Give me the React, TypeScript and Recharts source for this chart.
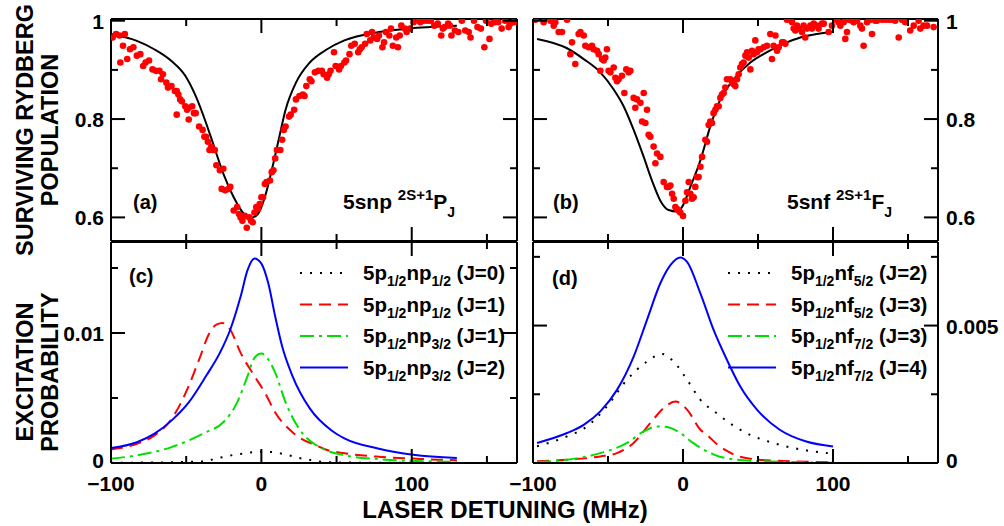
import React from 'react';
import { ComposedChart, Line, Scatter, XAxis, YAxis } from 'recharts';

const W = 1004;
const H = 526;
const FONT = '"Liberation Sans", Arial, Helvetica, sans-serif';

// axes (laser detuning in MHz)
const xDomain: [number, number] = [-100, 170];
const xTicks = [-100, -50, 0, 50, 100, 150];
const xMajor = [-100, 0, 100];

const popDomain: [number, number] = [0.552, 1.0035];
const popTicks = [0.6, 0.7, 0.8, 0.9, 1];
const popMajor = [0.6, 0.8, 1];

const npDomain: [number, number] = [0, 0.017];
const npTicks = [0, 0.005, 0.01, 0.015];
const npMajor = [0, 0.01];

const nfDomain: [number, number] = [0, 0.00804];
const nfTicks = [0, 0.0025, 0.005, 0.0075];
const nfMajor = [0, 0.005];

// (a) 5snp measured survival + fit
const aFit: [number, number][] = [
  [-100, 0.973], [-82.8, 0.959], [-71.3, 0.942], [-59.8, 0.918], [-50.6, 0.888], [-43.7, 0.847],
  [-36.8, 0.792], [-32.2, 0.751], [-25.3, 0.689], [-18.4, 0.641], [-11.5, 0.607], [-7, 0.599],
  [-2.3, 0.607], [2.3, 0.641], [6.9, 0.696], [11.5, 0.758], [16.1, 0.819], [23, 0.874],
  [32.2, 0.915], [43.7, 0.942], [55.2, 0.96], [78.2, 0.977], [101, 0.985], [130, 0.99],
];
const aDots: [number, number][] = [
  [-98.9, 0.966], [-96.6, 0.973], [-94.3, 0.97], [-90.8, 0.973], [-93.8, 0.915], [-92, 0.949],
  [-89.2, 0.922], [-87.4, 0.942], [-85.1, 0.946], [-82.8, 0.929], [-80.5, 0.932], [-78.6, 0.908],
  [-77, 0.915], [-74.7, 0.919], [-72.4, 0.901], [-70.1, 0.898], [-67.8, 0.898], [-66.7, 0.881],
  [-65.5, 0.891], [-63.2, 0.874], [-62.1, 0.864], [-59.8, 0.867], [-57.5, 0.857], [-56.3, 0.857],
  [-55.2, 0.85], [-54, 0.84], [-52.9, 0.836], [-50.6, 0.826], [-49.4, 0.819], [-48.3, 0.823],
  [-46, 0.826], [-44.8, 0.812], [-43.7, 0.812], [-56.3, 0.809], [-48.3, 0.799], [-41.4, 0.785],
  [-39.1, 0.778], [-36.8, 0.764], [-37.9, 0.764], [-35.6, 0.754], [-33.3, 0.744], [-32.2, 0.737],
  [-34.5, 0.737], [-31, 0.737], [-29.9, 0.706], [-27.6, 0.696], [-25.3, 0.699], [-26.4, 0.658],
  [-24.1, 0.655], [-21.8, 0.658], [-20.7, 0.662], [-18.4, 0.614], [-16.1, 0.621], [-14.9, 0.607],
  [-13.8, 0.6], [-12.6, 0.593], [-11, 0.603], [-9.7, 0.579], [-8, 0.6], [-6.9, 0.593],
  [-5.7, 0.59], [-4.6, 0.61], [-3.4, 0.621], [-2.3, 0.617], [-1.1, 0.627], [0, 0.641],
  [1.1, 0.641], [2.3, 0.668], [3.4, 0.672], [5.7, 0.675], [6.9, 0.692], [8, 0.696],
  [9.2, 0.72], [10.3, 0.737], [12.6, 0.737], [13.8, 0.758], [14.9, 0.778], [16.1, 0.785],
  [18.4, 0.805], [19.5, 0.809], [21.8, 0.819], [23, 0.84], [25.3, 0.847], [27.6, 0.85],
  [28.7, 0.847], [29.9, 0.867], [32.2, 0.881], [33.3, 0.877], [35.6, 0.895], [37.9, 0.898],
  [40.2, 0.898], [41.4, 0.891], [43.7, 0.884], [44.8, 0.891], [46, 0.898], [48.3, 0.936],
  [49.4, 0.908], [51.7, 0.901], [52.9, 0.908], [55.2, 0.915], [56.3, 0.919], [58.6, 0.932],
  [59.8, 0.949], [62.1, 0.953], [64.4, 0.936], [65.5, 0.942], [66.7, 0.946], [69, 0.953],
  [70.1, 0.973], [72.4, 0.96], [73.6, 0.977], [74.7, 0.966], [77, 0.963], [78.2, 0.97],
  [80.5, 0.946], [81.6, 0.956], [82.8, 0.977], [85.1, 0.97], [86.2, 0.984], [87.4, 0.949],
  [89.7, 0.966], [90.8, 0.946], [92, 0.97], [93.1, 0.99], [95.4, 0.984], [96.6, 0.977],
  [98.9, 0.984], [101.2, 0.997], [104.6, 1.0], [105.7, 0.997], [108, 1.0], [110.4, 1.0],
  [112.7, 1.0], [115, 0.99], [117.3, 0.994], [119.6, 0.97], [120.7, 0.984], [121.9, 0.987],
  [124.2, 0.994], [125.3, 0.99], [126.4, 0.97], [128.7, 0.98], [131, 0.977], [133.3, 1.0],
  [135.6, 0.98], [137.9, 0.977], [139.1, 0.966], [141.4, 1.0], [143.7, 0.987], [146, 0.984],
  [148.3, 0.946], [149.4, 1.0], [151.7, 0.963], [152.9, 0.994], [155.2, 0.997], [157.5, 0.997],
  [159.8, 0.984], [162.1, 1.0], [164.4, 0.987], [165.5, 0.994], [167.8, 0.997],
];

// (b) 5snf measured survival + fit
const bFit: [number, number][] = [
  [-97.3, 0.963], [-77.3, 0.944], [-66.2, 0.922], [-55.1, 0.895], [-46.2, 0.86], [-39.6, 0.826],
  [-32.9, 0.778], [-26.2, 0.723], [-20.7, 0.675], [-15.1, 0.634], [-9.6, 0.615], [-4, 0.612],
  [-0.7, 0.621], [4.9, 0.662], [11.6, 0.716], [18.2, 0.785], [24.9, 0.84], [33.8, 0.881],
  [44.9, 0.915], [56, 0.936], [67.1, 0.953], [78.2, 0.966], [89.3, 0.973], [100, 0.977],
];
const bDots: [number, number][] = [
  [-98.4, 1.002], [-92.9, 0.997], [-88.4, 1.0], [-85.1, 0.997], [-86.2, 0.99], [-82.9, 0.977],
  [-80.7, 0.977], [-77.3, 1.002], [-74, 0.956], [-75.1, 0.932], [-71.8, 0.912], [-69.6, 0.973],
  [-68.4, 0.977], [-66.2, 0.97], [-65.1, 0.949], [-62.9, 0.946], [-60.7, 0.949], [-59.6, 0.942],
  [-57.3, 0.939], [-56.2, 0.932], [-55.1, 0.898], [-54, 0.922], [-52.9, 0.919], [-51.8, 0.925],
  [-50.7, 0.942], [-49.6, 0.898], [-48.4, 0.895], [-46.2, 0.905], [-45.1, 0.884], [-44, 0.877],
  [-42.9, 0.881], [-40.7, 0.888], [-39.1, 0.853], [-37.8, 0.901], [-36.2, 0.895], [-35.1, 0.898],
  [-32.9, 0.843], [-31.8, 0.823], [-30.7, 0.84], [-28.4, 0.833], [-27.3, 0.795], [-26.2, 0.853],
  [-25.1, 0.792], [-24, 0.819], [-22.9, 0.768], [-21.8, 0.764], [-19.6, 0.744], [-18.4, 0.71],
  [-17.3, 0.73], [-15.1, 0.723], [-12.9, 0.672], [-10.7, 0.662], [-9.6, 0.662], [-8.4, 0.665],
  [-7.3, 0.648], [-6.2, 0.638], [-5.1, 0.621], [-4, 0.617], [-2.9, 0.614], [-1.8, 0.61],
  [0, 0.603], [1.6, 0.634], [2.7, 0.651], [3.8, 0.672], [4.9, 0.648], [6, 0.638],
  [7.1, 0.641], [8.2, 0.662], [9.3, 0.682], [10.4, 0.682], [11.6, 0.703], [12.7, 0.723],
  [14.9, 0.758], [16, 0.754], [17.1, 0.788], [18.2, 0.795], [19.3, 0.792], [20.4, 0.812],
  [21.6, 0.819], [22.7, 0.826], [23.8, 0.826], [24.9, 0.843], [26, 0.85], [27.1, 0.853],
  [28.2, 0.864], [29.3, 0.881], [31.6, 0.881], [32.7, 0.874], [33.8, 0.871], [34.9, 0.867],
  [36, 0.881], [37.1, 0.891], [38.2, 0.905], [39.3, 0.912], [40.4, 0.915], [41.6, 0.929],
  [42.7, 0.936], [43.8, 0.925], [44.9, 0.901], [46, 0.939], [47.1, 0.932], [48.2, 0.96],
  [49.3, 0.936], [50.4, 0.942], [51.6, 0.942], [53.8, 0.946], [56, 0.949], [58.2, 0.973],
  [59.3, 0.922], [60.4, 0.949], [61.6, 0.97], [62.7, 0.939], [63.8, 0.946], [66, 0.956],
  [67.1, 0.956], [68.2, 0.953], [69.3, 1.002], [71.6, 1.002], [72.7, 0.997], [73.8, 0.984],
  [74.9, 0.98], [76, 0.99], [77.1, 0.984], [79.3, 0.977], [80.4, 0.99], [81.5, 0.966],
  [82.7, 0.984], [84.9, 0.99], [86, 0.984], [87.1, 0.994], [89.3, 0.99], [90.4, 0.984],
  [92.7, 0.994], [93.8, 0.994], [97.1, 0.977], [99.3, 0.99], [101.5, 1.002], [103.8, 0.997],
  [104.9, 0.99], [107.1, 0.997], [108.2, 0.963], [109.3, 0.977], [110.4, 1.002], [112.7, 1.0],
  [113.8, 0.997], [116, 1.0], [118.2, 0.99], [119.3, 0.984], [120.4, 0.949], [122.7, 0.997],
  [124.9, 1.002], [126, 0.973], [128.2, 1.0], [129.3, 1.0], [132.7, 1.002], [134.9, 1.002],
  [137.1, 1.002], [139.3, 1.002], [141.5, 1.0], [143.8, 0.966], [146, 1.002], [148.2, 0.997],
  [151.5, 0.98], [153.8, 0.99], [157.1, 1.0], [158.2, 0.984], [160.4, 0.99], [162.7, 0.99],
  [167.1, 0.987],
];

// (c) 5p1/2 np excitation probability
const npJ0: [number, number][] = [
  [-100, 0.00002], [-70, 0.00004], [-50, 0.00008], [-37.7, 0.00012], [-31.4, 0.00031],
  [-25.3, 0.00046], [-18.7, 0.00062], [-12.4, 0.00072], [-6, 0.00082], [0, 0.00086],
  [6.6, 0.00085], [13.3, 0.00072], [19.5, 0.00056], [25.4, 0.00038], [31.6, 0.00025],
  [38, 0.00012], [44.5, 0.00006], [60, 0.00003], [100, 0.00001], [130, 0.00001],
];
const npJ1a: [number, number][] = [
  [-100, 0.00104], [-82.8, 0.00148], [-71.3, 0.00211], [-59.8, 0.00338], [-48.3, 0.00593],
  [-41.4, 0.00796], [-34.5, 0.01], [-29.9, 0.01064], [-25.7, 0.01076], [-20.7, 0.01025],
  [-13.8, 0.00847], [-4.6, 0.00669], [2.3, 0.00542], [9.2, 0.00389], [20.7, 0.00237],
  [24.8, 0.002], [35.4, 0.0014], [43.7, 0.001], [55.2, 0.00075], [78.2, 0.00048],
  [101.2, 0.00034], [118, 0.00025], [130, 0.00022],
];
const npJ1b: [number, number][] = [
  [-100, 0.00033], [-82.8, 0.00059], [-59.8, 0.00122], [-36.8, 0.00237], [-25.3, 0.00313],
  [-16.1, 0.00466], [-9.2, 0.00669], [-4.6, 0.00809], [0, 0.00842], [4.6, 0.00796],
  [9.2, 0.00695], [16.1, 0.00466], [25.3, 0.0026], [29.5, 0.002], [39.1, 0.0012],
  [55.2, 0.0006], [78.2, 0.0003], [95, 0.00018], [130, 0.0001],
];
const npJ2: [number, number][] = [
  [-100, 0.00115], [-82.8, 0.0016], [-71.3, 0.00224], [-59.8, 0.00326], [-48.3, 0.00466],
  [-36.8, 0.00669], [-27.6, 0.00847], [-20.7, 0.01025], [-13.8, 0.0128], [-9.2, 0.01483],
  [-4.6, 0.01573], [0, 0.01534], [4.6, 0.01382], [9.2, 0.01127], [13.8, 0.00898],
  [20.7, 0.00669], [32.2, 0.0042], [46.7, 0.0025], [55.2, 0.0019], [78.2, 0.0011],
  [101, 0.00063], [130, 0.00038],
];

// (d) 5p1/2 nf excitation probability
const nfJ2: [number, number][] = [
  [-97.3, 0.00061], [-77.3, 0.00097], [-64, 0.00133], [-50.7, 0.00206], [-37.3, 0.00303],
  [-24, 0.00369], [-14, 0.00397], [-6.2, 0.00369], [2.7, 0.00303], [11.6, 0.0023],
  [22.7, 0.0018], [33.8, 0.00135], [42.2, 0.00109], [60, 0.00073], [80, 0.00048], [100, 0.00034],
];
const nfJ3a: [number, number][] = [
  [-97.3, 0.00006], [-77.3, 0.00012], [-55.1, 0.00024], [-44, 0.00036], [-32.9, 0.00073],
  [-21.8, 0.00145], [-12.9, 0.002], [-5.1, 0.00224], [2.7, 0.00194], [11.6, 0.00121],
  [16.5, 0.001], [22.7, 0.00068], [29, 0.00045], [38, 0.00023], [56, 0.0001], [100, 0.00003],
];
const nfJ3b: [number, number][] = [
  [-97.3, 0.00004], [-77.3, 0.00012], [-55.1, 0.00036], [-37.3, 0.00073], [-26.2, 0.00115],
  [-17.3, 0.00133], [-10.7, 0.00131], [-1.8, 0.00109], [6.7, 0.00073], [11.6, 0.00055],
  [18, 0.00037], [24.5, 0.00023], [44.9, 0.00008], [100, 0.00001],
];
const nfJ4: [number, number][] = [
  [-97.3, 0.00073], [-77.3, 0.00109], [-66.2, 0.00139], [-55.1, 0.00188], [-44, 0.00266],
  [-32.9, 0.00387], [-24, 0.00521], [-15.1, 0.00654], [-8.4, 0.0072], [-1.8, 0.00748],
  [2.7, 0.00732], [11.6, 0.00617], [20.4, 0.00484], [29.3, 0.00375], [38.2, 0.00278],
  [49.3, 0.00194], [64.5, 0.00121], [82.2, 0.00078], [100, 0.0006],
];

// legend labels: [core, sub1, mid, sub2, J]
const npLegend = [
  ['5p', '1/2', 'np', '1/2', ' (J=0)'],
  ['5p', '1/2', 'np', '1/2', ' (J=1)'],
  ['5p', '1/2', 'np', '3/2', ' (J=1)'],
  ['5p', '1/2', 'np', '3/2', ' (J=2)'],
];
const nfLegend = [
  ['5p', '1/2', 'nf', '5/2', ' (J=2)'],
  ['5p', '1/2', 'nf', '5/2', ' (J=3)'],
  ['5p', '1/2', 'nf', '7/2', ' (J=3)'],
  ['5p', '1/2', 'nf', '7/2', ' (J=4)'],
];

const STYLES = [
  { stroke: '#000000', dash: '2 8' },
  { stroke: '#ff0000', dash: '12 7' },
  { stroke: '#00e000', dash: '14 5 3 5' },
  { stroke: '#0000ff', dash: undefined as string | undefined },
];

const toPts = (arr: [number, number][]) => arr.map(([x, y]) => ({ x, y }));

type Side = 'left' | 'right' | 'top' | 'bottom';
const fmtTick = (v: number) => (v < 0 ? '\u2212' + Math.abs(v) : String(v));

function tickFor(side: Side, major: number[], showLabel: boolean) {
  return (props: any) => {
    const { x, y, payload } = props;
    const v = payload.value as number;
    const isMajor = major.some((m) => Math.abs(m - v) < 1e-9);
    const len = isMajor ? 14 : 7;
    let x2 = x;
    let y2 = y;
    if (side === 'bottom') y2 = y - len;
    if (side === 'top') y2 = y + len;
    if (side === 'left') x2 = x + len;
    if (side === 'right') x2 = x - len;
    const txt = { fontFamily: FONT, fontWeight: 700, fontSize: 21, fill: '#000' };
    // the zero label sits in the corner, lift it a little clear of the x labels
    const dy = v === 0 ? 5 : 8;
    let label = null;
    if (showLabel && isMajor) {
      if (side === 'bottom')
        label = <text x={x} y={y + 28} textAnchor="middle" {...txt}>{fmtTick(v)}</text>;
      if (side === 'left')
        label = <text x={x - 7} y={y + dy} textAnchor="end" {...txt}>{fmtTick(v)}</text>;
      if (side === 'right')
        label = <text x={x + 8} y={y + dy} textAnchor="start" {...txt}>{fmtTick(v)}</text>;
    }
    return (
      <g>
        <line x1={x} y1={y} x2={x2} y2={y2} stroke="#000" strokeWidth={2} />
        {label}
      </g>
    );
  };
}

interface PanelProps {
  left: number;
  top: number;
  width: number;
  height: number;
  yDomain: [number, number];
  yTicks: number[];
  yMajor: number[];
  yLabels: 'left' | 'right';
  xLabels: boolean;
  children: React.ReactNode;
}

const frame = { stroke: '#000', strokeWidth: 2 };

// every axis is 1px thick, so the margins leave that 1px out
function Panel({ left, top, width, height, yDomain, yTicks, yMajor, yLabels, xLabels, children }: PanelProps) {
  const margin = { left: left - 1, top: top - 1, right: W - left - width - 1, bottom: H - top - height - 1 };
  return (
    <div style={{ position: 'absolute', left: 0, top: 0 }}>
      <ComposedChart width={W} height={H} margin={margin}>
        <XAxis xAxisId="b" type="number" dataKey="x" orientation="bottom" domain={xDomain} ticks={xTicks}
          interval={0} allowDataOverflow height={1} tickSize={0} tickMargin={0} tickLine={false}
          axisLine={frame} tick={tickFor('bottom', xMajor, xLabels)} />
        <XAxis xAxisId="t" type="number" dataKey="x" orientation="top" domain={xDomain} ticks={xTicks}
          interval={0} allowDataOverflow height={1} tickSize={0} tickMargin={0} tickLine={false}
          axisLine={frame} tick={tickFor('top', xMajor, false)} />
        <YAxis yAxisId="l" type="number" dataKey="y" orientation="left" domain={yDomain} ticks={yTicks}
          interval={0} allowDataOverflow width={1} tickSize={0} tickMargin={0} tickLine={false}
          axisLine={frame} tick={tickFor('left', yMajor, yLabels === 'left')} />
        <YAxis yAxisId="r" type="number" dataKey="y" orientation="right" domain={yDomain} ticks={yTicks}
          interval={0} allowDataOverflow width={1} tickSize={0} tickMargin={0} tickLine={false}
          axisLine={frame} tick={tickFor('right', yMajor, yLabels === 'right')} />
        {children}
      </ComposedChart>
    </div>
  );
}

const dot = (p: any) => <circle cx={p.cx} cy={p.cy} r={3.3} fill="#ff0000" />;

function curve(key: string, data: [number, number][], i: number) {
  const s = STYLES[i];
  return (
    <Line key={key} xAxisId="b" yAxisId="l" data={toPts(data)} dataKey="y" type="monotone"
      stroke={s.stroke} strokeWidth={2} strokeDasharray={s.dash} dot={false} activeDot={false}
      isAnimationActive={false} />
  );
}

function LegendBox({ x, y0, rows }: { x: number; y0: number; rows: string[][] }) {
  return (
    <g>
      {rows.map((r, i) => {
        const y = y0 + i * 31.5;
        const s = STYLES[i];
        return (
          <g key={i}>
            <line x1={x} x2={x + 48} y1={y} y2={y} stroke={s.stroke} strokeWidth={2} strokeDasharray={s.dash} />
            <text x={x + 63} y={y + 7} fontFamily={FONT} fontWeight={700} fontSize={20.5} fill="#000">
              <tspan>{r[0]}</tspan>
              <tspan fontSize={14} dy={6}>{r[1]}</tspan>
              <tspan dy={-6}>{r[2]}</tspan>
              <tspan fontSize={14} dy={6}>{r[3]}</tspan>
              <tspan dy={-6}>{r[4]}</tspan>
            </text>
          </g>
        );
      })}
    </g>
  );
}

function Overlay() {
  const t = { fontFamily: FONT, fontWeight: 700, fill: '#000' };
  return (
    <svg width={W} height={H} style={{ position: 'absolute', left: 0, top: 0, pointerEvents: 'none' }}>
      <text {...t} fontSize={23.5} textAnchor="middle" transform="translate(33,130) rotate(-90)">SURVIVING RYDBERG</text>
      <text {...t} fontSize={23.5} textAnchor="middle" transform="translate(58,130) rotate(-90)">POPULATION</text>
      <text {...t} fontSize={23.5} textAnchor="middle" transform="translate(33,372) rotate(-90)">EXCITATION</text>
      <text {...t} fontSize={23.5} textAnchor="middle" transform="translate(58,372) rotate(-90)">PROBABILITY</text>
      <text {...t} fontSize={24} textAnchor="middle" x={505} y={518}>LASER DETUNING (MHz)</text>

      <text {...t} fontSize={20} x={133} y={209}>(a)</text>
      <text {...t} fontSize={20} x={553} y={209}>(b)</text>
      <text {...t} fontSize={20} x={129} y={283}>(c)</text>
      <text {...t} fontSize={20} x={552} y={285}>(d)</text>

      <text {...t} fontSize={21} x={343} y={209}>
        <tspan>5snp </tspan>
        <tspan fontSize={15} dy={-9}>2S+1</tspan>
        <tspan dy={9}>P</tspan>
        <tspan fontSize={14} dy={8}>J</tspan>
      </text>
      <text {...t} fontSize={21} x={787} y={209}>
        <tspan>5snf </tspan>
        <tspan fontSize={15} dy={-9}>2S+1</tspan>
        <tspan dy={9}>F</tspan>
        <tspan fontSize={14} dy={8}>J</tspan>
      </text>

      <LegendBox x={300} y0={273} rows={npLegend} />
      <LegendBox x={728} y0={273} rows={nfLegend} />
    </svg>
  );
}

export default function App() {
  return (
    <div style={{ position: 'absolute', left: 0, top: 0, width: W, height: H, background: '#fff' }}>
      <Panel left={111} top={19} width={406} height={222} yDomain={popDomain} yTicks={popTicks}
        yMajor={popMajor} yLabels="left" xLabels={false}>
        <Line xAxisId="b" yAxisId="l" data={toPts(aFit)} dataKey="y" type="monotone" stroke="#000"
          strokeWidth={2} dot={false} activeDot={false} isAnimationActive={false} />
        <Scatter xAxisId="b" yAxisId="l" data={toPts(aDots)} shape={dot} isAnimationActive={false} />
      </Panel>
      <Panel left={533} top={19} width={405} height={222} yDomain={popDomain} yTicks={popTicks}
        yMajor={popMajor} yLabels="right" xLabels={false}>
        <Line xAxisId="b" yAxisId="l" data={toPts(bFit)} dataKey="y" type="monotone" stroke="#000"
          strokeWidth={2} dot={false} activeDot={false} isAnimationActive={false} />
        <Scatter xAxisId="b" yAxisId="l" data={toPts(bDots)} shape={dot} isAnimationActive={false} />
      </Panel>
      <Panel left={111} top={242} width={406} height={221} yDomain={npDomain} yTicks={npTicks}
        yMajor={npMajor} yLabels="left" xLabels>
        {curve('j0', npJ0, 0)}
        {curve('j1a', npJ1a, 1)}
        {curve('j1b', npJ1b, 2)}
        {curve('j2', npJ2, 3)}
      </Panel>
      <Panel left={533} top={242} width={405} height={221} yDomain={nfDomain} yTicks={nfTicks}
        yMajor={nfMajor} yLabels="right" xLabels>
        {curve('j2', nfJ2, 0)}
        {curve('j3a', nfJ3a, 1)}
        {curve('j3b', nfJ3b, 2)}
        {curve('j4', nfJ4, 3)}
      </Panel>
      <Overlay />
    </div>
  );
}
